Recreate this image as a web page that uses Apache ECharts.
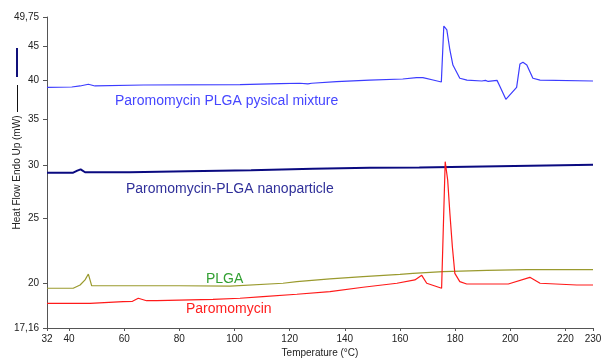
<!DOCTYPE html>
<html>
<head>
<meta charset="utf-8">
<script src="https://cdn.jsdelivr.net/npm/echarts@6/dist/echarts.min.js"></script>
<style>
  html, body { margin: 0; padding: 0; background: #fff; }
  #chart { width: 602px; height: 358px; }
</style>
</head>
<body>
<div id="chart"></div>
<script>
// DSC thermograms, [temperature °C, heat flow mW]
const mixture = [
  [32, 39.10], [41, 39.15], [44, 39.29], [47, 39.52], [49.4, 39.29], [67, 39.42],
  [102, 39.46], [116.5, 39.60], [123.7, 39.66], [126.6, 39.56], [128, 39.66],
  [137, 39.87], [149, 40.09], [161, 40.24], [166, 40.42], [168.3, 40.42],
  [172, 40.10], [175.0, 39.83], [175.9, 48.24], [177, 47.59], [178.1, 44.44],
  [179.2, 42.21], [181.7, 40.34], [184.3, 40.09], [189.7, 39.96], [191, 40.05],
  [192, 39.90], [195.2, 40.05], [196.3, 39.19], [198.4, 37.54], [202.3, 39.10],
  [203.5, 42.35], [204.6, 42.60], [206, 42.21], [208.2, 40.34], [210.8, 40.09],
  [230, 39.96]
];
const nanoparticle = [
  [32, 29.20], [41.5, 29.20], [43, 29.40], [44.2, 29.54], [45.8, 29.24], [62, 29.24],
  [62.5, 29.34], [83, 29.34], [83.5, 29.44], [106, 29.44], [106.5, 29.54],
  [128.4, 29.60], [149, 29.70], [167, 29.72], [167.5, 29.78], [190, 29.82],
  [190.5, 29.91], [213, 29.93], [213.5, 30.01], [230, 30.01]
];
const plga = [
  [32, 19.66], [41.5, 19.66], [44, 19.88], [45.8, 20.23], [47, 20.64], [47.6, 20.23],
  [48.2, 19.83], [80, 19.83], [80.5, 19.77], [98.4, 19.81], [117.6, 20.00],
  [122.6, 20.11], [134.6, 20.30], [146.6, 20.46], [160, 20.62], [164.7, 20.69],
  [175.6, 20.81], [191.5, 20.90], [206, 20.95], [230, 20.95]
];
const paromomycin = [
  [32, 18.67], [47.6, 18.67], [48, 18.71], [59.6, 18.78], [63, 18.80], [65.1, 19.00],
  [68.1, 18.84], [71.8, 18.84], [92.2, 18.93], [102, 19.00], [110.3, 19.10],
  [122.6, 19.26], [134.6, 19.43], [146.6, 19.73], [158.9, 20.00], [165.4, 20.23],
  [167.9, 20.55], [169.7, 20.00], [175.1, 19.66], [175.4, 19.66], [176.4, 30.32],
  [177.3, 28.48], [178.1, 25.41], [179, 22.66], [179.9, 20.69], [181.7, 20.11],
  [184.2, 19.95], [199.3, 19.95], [207.1, 20.41], [210.8, 20.00], [224.1, 19.88],
  [230, 19.88]
];

const xTicks = [32, 40, 60, 80, 100, 120, 140, 160, 180, 200, 220, 230];
const yTicks = [17.16, 20, 25, 30, 35, 40, 45, 49.75];

// the heat-flow axis is logarithmic; plot log10 values on a value axis
const lg = v => Math.log10(v);
const toLog = arr => arr.map(p => [p[0], lg(p[1])]);

const yLabel = (v) => {
  let best = yTicks[0];
  yTicks.forEach(t => { if (Math.abs(lg(t) - v) < Math.abs(lg(best) - v)) best = t; });
  return String(best).replace('.', ',');
};

const myChart = echarts.init(document.getElementById('chart'));
const FONT = 'Liberation Sans, Arial, sans-serif';

const option = {
  animation: false,
  textStyle: { fontFamily: FONT },
  grid: { left: 47, right: 9, top: 17, bottom: 30, outerBoundsMode: 'none', containLabel: false },
  xAxis: {
    type: 'value',
    min: 32,
    max: 230,
    name: 'Temperature (°C)',
    nameLocation: 'middle',
    nameGap: 20,
    nameMoveOverlap: false,
    nameTextStyle: { fontSize: 10, color: '#222', fontFamily: FONT },
    axisLine: { lineStyle: { color: '#555', width: 1 } },
    axisTick: { length: 3, lineStyle: { color: '#555' }, customValues: xTicks },
    axisLabel: { fontSize: 10, color: '#222', margin: 6, customValues: xTicks },
    splitLine: { show: false }
  },
  yAxis: {
    type: 'value',
    min: lg(17.16),
    max: lg(49.75),
    name: 'Heat Flow Endo Up (mW)',
    nameLocation: 'middle',
    nameGap: 25,
    nameMoveOverlap: false,
    nameTextStyle: { fontSize: 10, color: '#222', fontFamily: FONT },
    axisLine: { show: true, lineStyle: { color: '#555', width: 1 } },
    axisTick: { show: true, length: 4, lineStyle: { color: '#555' }, customValues: yTicks.map(lg) },
    axisLabel: {
      fontSize: 10, color: '#222', margin: 8,
      customValues: yTicks.map(lg),
      formatter: yLabel
    },
    splitLine: { show: false }
  },
  series: [
    {
      name: 'Paromomycin PLGA pysical mixture',
      type: 'line', showSymbol: false,
      lineStyle: { color: '#3c3cff', width: 1.2 },
      data: toLog(mixture)
    },
    {
      name: 'Paromomycin-PLGA nanoparticle',
      type: 'line', showSymbol: false,
      lineStyle: { color: '#0a0a80', width: 2 },
      data: toLog(nanoparticle)
    },
    {
      name: 'PLGA',
      type: 'line', showSymbol: false,
      lineStyle: { color: '#9a9a2e', width: 1.2 },
      data: toLog(plga)
    },
    {
      name: 'Paromomycin',
      type: 'line', showSymbol: false,
      lineStyle: { color: '#ff1a1a', width: 1.2 },
      data: toLog(paromomycin)
    }
  ],
  graphic: [
    { type: 'line', shape: { x1: 17, y1: 48, x2: 17, y2: 77 }, style: { stroke: '#10107a', lineWidth: 2 } },
    { type: 'line', shape: { x1: 17.5, y1: 85, x2: 17.5, y2: 112 }, style: { stroke: '#111', lineWidth: 1 } },
    { type: 'text', left: 115, top: 94, style: { text: 'Paromomycin PLGA pysical mixture', fill: '#4646ff', font: '14px ' + FONT } },
    { type: 'text', left: 126, top: 182, style: { text: 'Paromomycin-PLGA nanoparticle', fill: '#30309a', font: '14px ' + FONT } },
    { type: 'text', left: 206, top: 272, style: { text: 'PLGA', fill: '#33a033', font: '14px ' + FONT } },
    { type: 'text', left: 186, top: 302, style: { text: 'Paromomycin', fill: '#ff2020', font: '14px ' + FONT } }
  ]
};

myChart.setOption(option);
</script>
</body>
</html>
